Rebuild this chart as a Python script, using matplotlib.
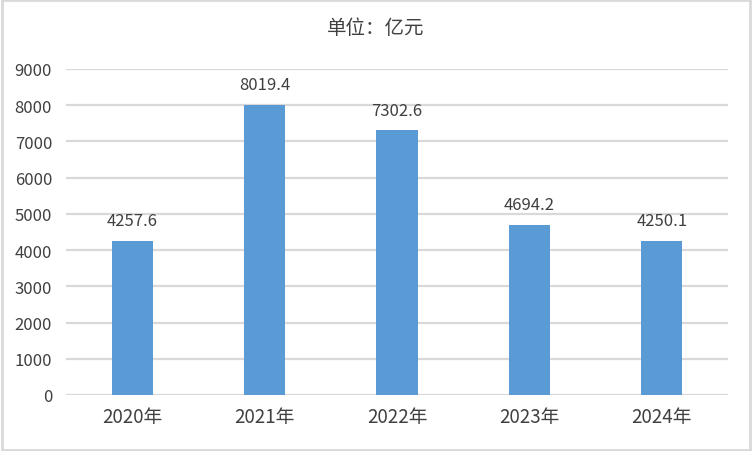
import matplotlib.pyplot as plt
from matplotlib.patches import Rectangle

plt.rcParams['font.family'] = ['Noto Sans CJK SC', 'DejaVu Sans']

years = ["2020年", "2021年", "2022年", "2023年", "2024年"]
values = [4257.6, 8019.4, 7302.6, 4694.2, 4250.1]
yticks = [0, 1000, 2000, 3000, 4000, 5000, 6000, 7000, 8000, 9000]

text_color = '#404040'
bar_color = '#5B9BD5'
grid_color = '#D9D9D9'

fig = plt.figure(figsize=(7.52, 4.52), dpi=100)
ax = fig.add_axes([66 / 752, 1 - 396 / 452, 662 / 752, 326 / 452])

x = range(len(years))
bars = ax.bar(x, values, width=0.31, color=bar_color, zorder=3)
for xi, v in zip(x, values):
    ax.text(xi, v + 330, f"{v:.1f}", ha='center', va='bottom',
            fontsize=12, color=text_color)

ax.set_xlim(-0.5, len(years) - 0.5)
ax.set_ylim(0, 9000)
ax.set_yticks(yticks)
ax.set_yticklabels([str(t) for t in yticks], fontsize=12, color=text_color)
ax.set_xticks(list(x))
ax.set_xticklabels(years, fontsize=13.5, color=text_color)
ax.tick_params(axis='both', length=0)
ax.tick_params(axis='y', pad=10)
ax.tick_params(axis='x', pad=8)
ax.yaxis.grid(True, color=grid_color, linewidth=1.6, zorder=0)
for s in ax.spines.values():
    s.set_visible(False)

fig.text(0.5, 1 - 28 / 452, "单位：亿元", ha='center', va='center',
         fontsize=14, color=text_color)

fig.patches.append(Rectangle((0.002, 0.003), 0.995, 0.994, transform=fig.transFigure,
                             fill=False, edgecolor='#D9D9D9', linewidth=2))

fig.savefig('out.png', dpi=100)
